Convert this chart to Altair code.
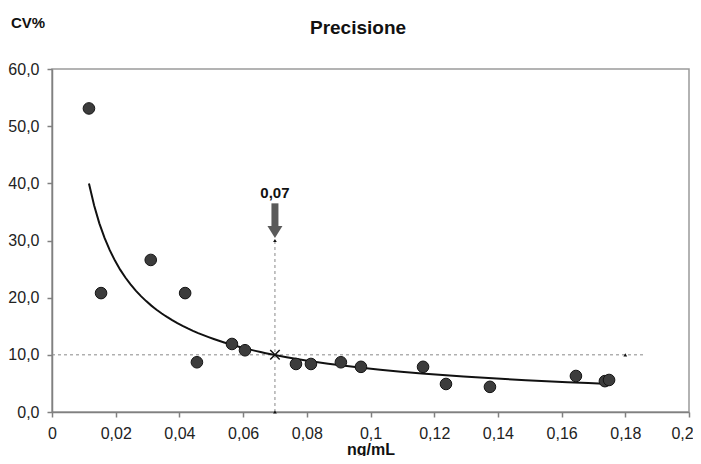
import altair as alt
import pandas as pd

# ---- data ----
conc = [0.0116, 0.0154, 0.0310, 0.0418, 0.0455, 0.0565, 0.0606, 0.0766, 0.0813,
        0.0907, 0.0970, 0.1165, 0.1237, 0.1375, 0.1645, 0.1736, 0.1749]
cv = [53.1, 20.8, 26.6, 20.8, 8.7, 11.9, 10.8, 8.4, 8.4,
      8.7, 7.9, 7.9, 4.9, 4.4, 6.3, 5.4, 5.6]

x_ticks = [0, 0.02, 0.04, 0.06, 0.08, 0.1, 0.12, 0.14, 0.16, 0.18, 0.2]
y_ticks = [0, 10, 20, 30, 40, 50, 60]

cross_x = [0.07]
cross_y = [10.0]
vline_x = [0.07, 0.07]
vline_y = [0, 30]
hline_x = [0, 0.1862]
hline_y = [10, 10]
tri_x = [0.07, 0.07, 0.18]
tri_y = [30, 0, 10]
arrow_x = [0.07, 0.07]
arrow_y = [36.5, 32.4]
head_x = [0.07]
head_y = [31.5]
lab_text = ["0,07"]
lab_x = [0.07]
lab_y = [37.4]

title_text = ["Precisione"]
ytitle_text = ["CV%"]
xtitle = "ng/mL"

FONT = "Liberation Sans"

xscale = alt.Scale(domain=[0, 0.2], nice=False, zero=False)
yscale = alt.Scale(domain=[0, 60], nice=False, zero=False)

xaxis = alt.Axis(values=x_ticks,
                 labelExpr="replace(format(datum.value, '.2~f'), '.', ',')",
                 labelFont=FONT, labelFontSize=16, labelColor="#222",
                 labelPadding=8, labelFlush=False, labelOverlap=False,
                 labelOffset={"condition": {"test": "datum.value >= 0.199", "value": -7},
                              "value": 0},
                 tickSize=5, tickColor="#808080", tickWidth=1.5,
                 domainColor="#808080", domainWidth=1.5, grid=False,
                 title=xtitle, titleFont=FONT, titleFontSize=16,
                 titleFontWeight="bold", titleColor="#111",
                 titleBaseline="alphabetic", titleY=42)
yaxis = alt.Axis(values=y_ticks,
                 labelExpr="replace(format(datum.value, '.1f'), '.', ',')",
                 labelFont=FONT, labelFontSize=16, labelColor="#222",
                 labelPadding=8, tickSize=5, tickColor="#808080", tickWidth=1.5,
                 domainColor="#808080", domainWidth=1.5, grid=False, title=None)


def X():
    return alt.X("x:Q", scale=xscale, axis=xaxis)


def Y():
    return alt.Y("y:Q", scale=yscale, axis=yaxis)


pts_df = pd.DataFrame({"x": conc, "y": cv})

dash = [3, 3]
hline = alt.Chart(pd.DataFrame({"x": hline_x, "y": hline_y})).mark_line(
    color="#888", strokeWidth=1, strokeDash=dash).encode(x=X(), y=Y())
vline = alt.Chart(pd.DataFrame({"x": vline_x, "y": vline_y})).mark_line(
    color="#888", strokeWidth=1, strokeDash=dash).encode(x=X(), y=Y())

trend = alt.Chart(pts_df).transform_regression(
    "x", "y", method="pow").mark_line(color="#111", strokeWidth=2).encode(x=X(), y=Y())

points = alt.Chart(pts_df).mark_point(
    filled=True, size=135, fill="#3c3c3c", stroke="#141414", strokeWidth=1,
    opacity=1).encode(x=X(), y=Y())

tris = alt.Chart(pd.DataFrame({"x": tri_x, "y": tri_y})).mark_point(
    shape="triangle-up", filled=True, size=14, color="#111", opacity=1).encode(x=X(), y=Y())

cross = alt.Chart(pd.DataFrame({"x": cross_x, "y": cross_y})).mark_point(
    shape="M-1,-1L1,1M1,-1L-1,1", filled=False, size=90, stroke="#111",
    strokeWidth=1.5, opacity=1).encode(x=X(), y=Y())

arrow = alt.Chart(pd.DataFrame({"x": arrow_x, "y": arrow_y})).mark_line(
    color="#5a5a5a", strokeWidth=7).encode(x=X(), y=Y())
head = alt.Chart(pd.DataFrame({"x": head_x, "y": head_y})).mark_point(
    shape="M-1,-0.8L1,-0.8L0,0.8Z", filled=True, size=225, color="#5a5a5a",
    opacity=1).encode(x=X(), y=Y())

lab = alt.Chart(pd.DataFrame({"x": lab_x, "y": lab_y, "t": lab_text})).mark_text(
    font=FONT, fontSize=15, fontWeight="bold", color="#111",
    baseline="alphabetic", align="center").encode(x=X(), y=Y(), text="t:N")

title = alt.Chart(pd.DataFrame({"t": title_text})).mark_text(
    font=FONT, fontSize=19, fontWeight="bold", color="#111",
    baseline="alphabetic", align="center").encode(
    x=alt.value(306), y=alt.value(-35), text="t:N")

ytitle = alt.Chart(pd.DataFrame({"t": ytitle_text})).mark_text(
    font=FONT, fontSize=15, fontWeight="bold", color="#111",
    baseline="alphabetic", align="left").encode(
    x=alt.value(-41), y=alt.value(-41), text="t:N")

chart = alt.layer(
    hline, vline, trend, points, tris, cross, arrow, head, lab, title, ytitle
).properties(
    width=637, height=343,
    padding={"left": 44, "top": 61, "right": 4, "bottom": 44},
    autosize=alt.AutoSizeParams(type="none"),
    background="white",
).configure_view(stroke="#9a9a9a", strokeWidth=1.5)

chart.save("out.html", embed_options={"renderer": "svg", "actions": False})
